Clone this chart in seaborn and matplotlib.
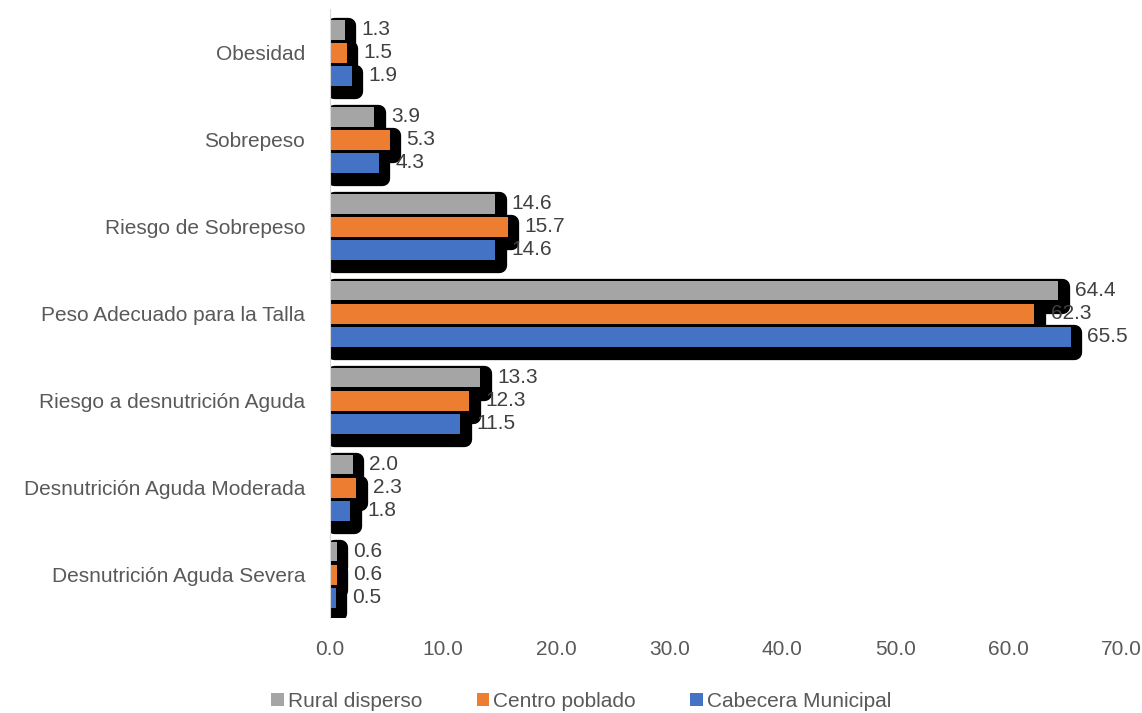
import matplotlib.pyplot as plt
import matplotlib.patheffects as pe
from matplotlib.patches import Patch
import pandas as pd
import seaborn as sns

# Datos
categorias = ['Obesidad', 'Sobrepeso', 'Riesgo de Sobrepeso', 'Peso Adecuado para la Talla',
              'Riesgo a desnutrición Aguda', 'Desnutrición Aguda Moderada', 'Desnutrición Aguda Severa']
series = ['Rural disperso', 'Centro poblado', 'Cabecera Municipal']
rural = [1.3, 3.9, 14.6, 64.4, 13.3, 2.0, 0.6]
centro = [1.5, 5.3, 15.7, 62.3, 12.3, 2.3, 0.6]
cabecera = [1.9, 4.3, 14.6, 65.5, 11.5, 1.8, 0.5]
colores = ['#A5A5A5', '#ED7D31', '#4472C4']

df = pd.DataFrame({
    'categoria': categorias * 3,
    'zona': [s for s in series for _ in categorias],
    'valor': rural + centro + cabecera,
})

sns.set_style('white')
plt.rcParams['font.family'] = ['Liberation Sans', 'DejaVu Sans']

fig, ax = plt.subplots(figsize=(11.42, 7.13), dpi=100)
fig.subplots_adjust(left=0.289, right=0.982, top=0.987, bottom=0.133)

# primero las sombras negras (mismas barras, en negro y ensanchadas), luego las barras
sns.barplot(data=df, y='categoria', x='valor', hue='zona', order=categorias,
            hue_order=series, palette=['black'] * 3, orient='h', width=0.8,
            saturation=1, ax=ax, errorbar=None, legend=False)
n_sombra = len(ax.patches)
sombra = [pe.PathPatchEffect(offset=(2.5, -4), facecolor='black', edgecolor='black',
                             linewidth=11, joinstyle='round')]
sns.barplot(data=df, y='categoria', x='valor', hue='zona', order=categorias,
            hue_order=series, palette=colores, orient='h', width=0.8,
            saturation=1, ax=ax, errorbar=None, legend=False)

for i, p in enumerate(ax.patches):
    h = p.get_height()
    nueva = h * 0.86
    p.set_y(p.get_y() + (h - nueva) / 2)
    p.set_height(nueva)
    p.set_linewidth(0)
    if i < n_sombra:
        p.set_path_effects(sombra)
        p.set_zorder(1)
    else:
        p.set_zorder(2)

for cont in ax.containers[3:]:
    ax.bar_label(cont, fmt='%.1f', padding=12, fontsize=15, color='#404040', zorder=3)

ax.set_xlim(0, 70)
ax.set_xticks(range(0, 71, 10))
ax.set_xticklabels([f'{v:.1f}' for v in range(0, 71, 10)])
ax.set_xlabel('')
ax.set_ylabel('')
ax.tick_params(axis='both', labelsize=15, colors='#595959', length=0)
ax.tick_params(axis='x', pad=16)
ax.tick_params(axis='y', pad=18)
for s in ['top', 'right', 'bottom']:
    ax.spines[s].set_visible(False)
ax.spines['left'].set_color('#D9D9D9')
ax.spines['left'].set_zorder(4)
ax.grid(False)

handles = [Patch(facecolor=c, edgecolor='none') for c in colores]
fig.legend(handles, series, loc='center', bbox_to_anchor=(0.509, 0.016), ncol=3, frameon=False,
           fontsize=15, handlelength=0.6, handleheight=0.6, handletextpad=0.2,
           columnspacing=2.6, labelcolor='#595959')

plt.savefig('out.png', dpi=100)
